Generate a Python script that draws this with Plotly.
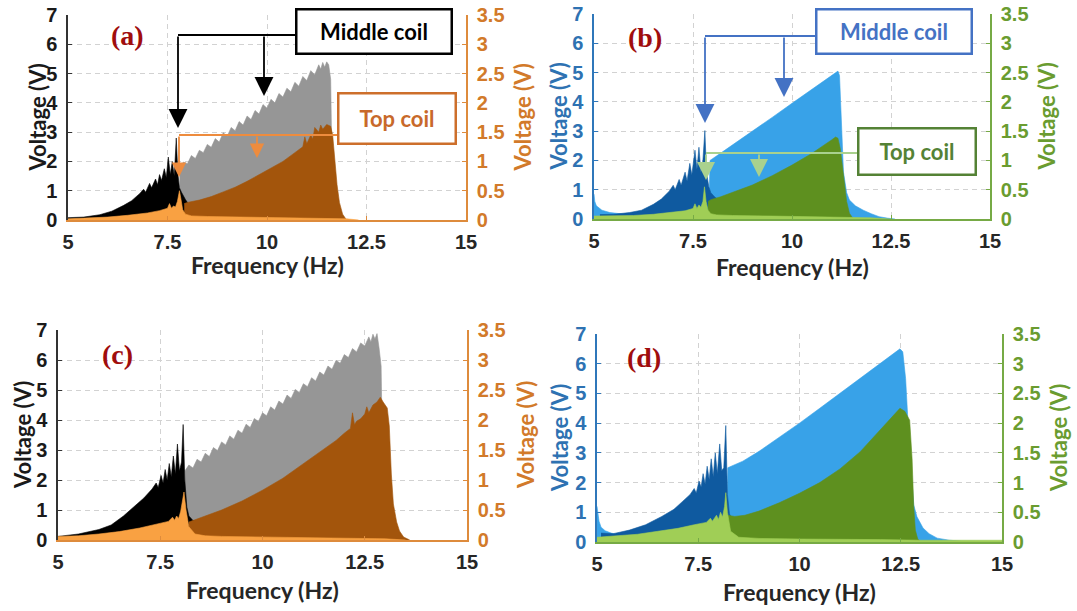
import plotly.graph_objects as go

W, H = 1077, 611

# ------------------------------------------------------------------ data
# Panel (a): middle coil (left axis, V) and top coil (right axis, V)
a_mid_pre_f = [5.0, 5.4, 5.8, 6.1, 6.4, 6.6, 6.8, 6.9, 6.95, 7.05, 7.1, 7.2, 7.25, 7.3, 7.35, 7.42, 7.47, 7.52, 7.57, 7.62, 7.67, 7.72, 7.76, 7.8, 7.85, 7.9, 7.95, 8.0, 8.02]
a_mid_pre_v = [0.08, 0.1, 0.18, 0.3, 0.5, 0.66, 0.9, 1.05, 0.95, 1.25, 1.1, 1.4, 1.2, 1.55, 1.35, 1.75, 1.45, 2.15, 1.55, 2.0, 1.5, 2.8, 1.6, 1.1, 0.95, 0.8, 0.7, 0.6, 0.0]
a_mid_post_f = [7.8, 7.9, 8.0, 8.1, 8.2, 8.3, 8.4, 8.5, 8.6, 8.7, 8.8, 8.9, 9.0, 9.1, 9.2, 9.3, 9.4, 9.5, 9.6, 9.7, 9.8, 9.9, 10.0, 10.1, 10.2, 10.3, 10.4, 10.5, 10.6, 10.7, 10.8, 10.9, 11.0, 11.1, 11.2, 11.3, 11.35, 11.4, 11.45, 11.5, 11.55, 11.6, 11.63, 11.66]
a_mid_post_v = [1.75, 1.98, 1.92, 2.2, 2.1, 2.38, 2.3, 2.58, 2.48, 2.78, 2.66, 2.98, 2.86, 3.16, 3.05, 3.36, 3.24, 3.55, 3.43, 3.74, 3.62, 3.94, 3.82, 4.12, 4.0, 4.32, 4.2, 4.5, 4.38, 4.7, 4.57, 4.9, 4.76, 5.1, 4.96, 5.3, 5.15, 5.38, 5.22, 5.4, 5.3, 4.8, 2.0, 0.0]
a_top_pre_f = [5.0, 5.5, 6.0, 6.5, 7.0, 7.3, 7.5, 7.55, 7.6, 7.65, 7.7, 7.75, 7.8, 7.84, 7.88, 7.95, 8.1, 8.5, 9.5, 10.5, 11.5, 12.0, 12.3]
a_top_pre_v = [0.02, 0.03, 0.05, 0.08, 0.12, 0.16, 0.2, 0.28, 0.2, 0.24, 0.22, 0.32, 0.5, 0.35, 0.18, 0.1, 0.07, 0.06, 0.05, 0.04, 0.03, 0.02, 0.0]
a_top_post_f = [7.92, 8.0, 8.3, 8.6, 8.9, 9.2, 9.5, 9.8, 10.1, 10.4, 10.7, 10.9, 10.95, 11.0, 11.1, 11.15, 11.2, 11.3, 11.35, 11.4, 11.5, 11.6, 11.65, 11.7, 11.76, 11.82, 11.9, 12.0]
a_top_post_v = [0.28, 0.3, 0.34, 0.4, 0.48, 0.56, 0.66, 0.77, 0.88, 1.0, 1.15, 1.25, 1.42, 1.3, 1.45, 1.38, 1.58, 1.5, 1.62, 1.55, 1.63, 1.6, 1.45, 1.0, 0.6, 0.3, 0.1, 0.0]

# Panel (b)
b_mid_pre_f = [5.15, 5.5, 5.9, 6.2, 6.5, 6.7, 6.9, 7.0, 7.05, 7.15, 7.2, 7.3, 7.35, 7.42, 7.47, 7.55, 7.6, 7.65, 7.7, 7.75, 7.8, 7.84, 7.9, 7.95, 8.05, 8.15, 8.18]
b_mid_pre_v = [0.15, 0.16, 0.22, 0.3, 0.5, 0.68, 0.95, 1.15, 1.0, 1.35, 1.15, 1.6, 1.3, 1.9, 1.5, 2.35, 1.7, 2.45, 1.6, 2.0, 3.02, 1.6, 1.1, 0.9, 0.75, 0.65, 0.0]
b_mid_post_f = [5.0, 5.02, 5.06, 5.1, 5.2, 5.4, 5.8, 6.5, 7.5, 7.9, 7.93, 8.2, 8.6, 9.0, 9.5, 10.0, 10.5, 11.0, 11.1, 11.16, 11.2, 11.25, 11.3, 11.38, 11.45, 11.6, 11.8, 12.0, 12.2, 12.4, 12.6]
b_mid_post_v = [0.85, 0.6, 0.45, 0.4, 0.3, 0.22, 0.16, 0.14, 0.2, 0.3, 2.0, 2.25, 2.62, 3.0, 3.47, 3.95, 4.42, 4.9, 5.0, 5.05, 4.9, 3.5, 1.6, 0.9, 0.65, 0.45, 0.3, 0.18, 0.08, 0.03, 0.0]
b_top_pre_f = [5.0, 5.5, 6.0, 6.5, 7.0, 7.3, 7.5, 7.55, 7.6, 7.65, 7.7, 7.75, 7.79, 7.83, 7.88, 7.95, 8.1, 8.5, 9.5, 10.5, 11.5, 12.0, 12.5]
b_top_pre_v = [0.05, 0.05, 0.06, 0.08, 0.11, 0.14, 0.18, 0.26, 0.18, 0.24, 0.2, 0.3, 0.55, 0.3, 0.15, 0.09, 0.07, 0.06, 0.05, 0.04, 0.03, 0.02, 0.0]
b_top_post_f = [7.88, 7.95, 8.2, 8.5, 9.0, 9.5, 10.0, 10.5, 10.8, 11.0, 11.1, 11.16, 11.22, 11.3, 11.38, 11.45, 11.55]
b_top_post_v = [0.3, 0.33, 0.38, 0.45, 0.58, 0.74, 0.92, 1.12, 1.25, 1.35, 1.4, 1.38, 1.2, 0.7, 0.3, 0.1, 0.0]

# Panel (c)
c_mid_pre_f = [5.0, 5.5, 6.0, 6.3, 6.6, 6.9, 7.1, 7.3, 7.4, 7.45, 7.52, 7.57, 7.62, 7.67, 7.72, 7.77, 7.82, 7.87, 7.92, 7.97, 8.02, 8.06, 8.1, 8.15, 8.2, 8.3, 8.4, 8.43]
c_mid_pre_v = [0.12, 0.2, 0.35, 0.5, 0.8, 1.15, 1.4, 1.7, 1.9, 1.75, 2.15, 1.9, 2.35, 2.0, 2.55, 2.1, 2.8, 2.2, 3.2, 2.3, 2.6, 3.85, 2.0, 1.1, 0.8, 0.65, 0.6, 0.0]
c_mid_post_f = [8.1, 8.2, 8.3, 8.4, 8.5, 8.6, 8.7, 8.8, 8.9, 9.0, 9.1, 9.2, 9.3, 9.4, 9.5, 9.6, 9.7, 9.8, 9.9, 10.0, 10.1, 10.2, 10.3, 10.4, 10.5, 10.6, 10.7, 10.8, 10.9, 11.0, 11.1, 11.2, 11.3, 11.4, 11.5, 11.6, 11.7, 11.8, 11.9, 12.0, 12.1, 12.2, 12.3, 12.4, 12.5, 12.6, 12.65, 12.7, 12.75, 12.8, 12.85, 12.9, 12.93, 12.96]
c_mid_post_v = [2.3, 2.5, 2.4, 2.69, 2.6, 2.89, 2.78, 3.08, 2.98, 3.27, 3.17, 3.47, 3.36, 3.66, 3.56, 3.86, 3.75, 4.05, 3.95, 4.24, 4.14, 4.44, 4.33, 4.63, 4.53, 4.83, 4.72, 5.02, 4.92, 5.21, 5.11, 5.41, 5.3, 5.6, 5.5, 5.8, 5.69, 5.99, 5.89, 6.18, 6.08, 6.38, 6.27, 6.57, 6.47, 6.77, 6.6, 6.86, 6.7, 6.88, 6.4, 5.8, 3.0, 0.0]
c_top_pre_f = [5.0, 5.5, 6.0, 6.5, 7.0, 7.5, 7.7, 7.8, 7.85, 7.9, 7.95, 8.0, 8.04, 8.08, 8.13, 8.2, 8.35, 8.6, 9.0, 10.0, 11.0, 12.0, 13.0, 13.5]
c_top_pre_v = [0.06, 0.07, 0.1, 0.14, 0.2, 0.27, 0.31, 0.38, 0.33, 0.4, 0.36, 0.48, 0.62, 0.8, 0.5, 0.22, 0.1, 0.07, 0.06, 0.05, 0.04, 0.03, 0.02, 0.0]
c_top_post_f = [8.2, 8.5, 9.0, 9.5, 10.0, 10.5, 11.0, 11.5, 11.8, 12.0, 12.15, 12.2, 12.25, 12.3, 12.4, 12.5, 12.55, 12.6, 12.7, 12.8, 12.88, 12.95, 13.05, 13.1, 13.15, 13.2, 13.28, 13.35, 13.45, 13.6]
c_top_post_v = [0.3, 0.38, 0.5, 0.65, 0.83, 1.03, 1.27, 1.52, 1.66, 1.78, 1.86, 2.12, 1.92, 1.98, 2.02, 2.1, 2.22, 2.12, 2.25, 2.3, 2.38, 2.3, 2.2, 1.9, 1.1, 0.6, 0.3, 0.15, 0.05, 0.0]

# Panel (d)
d_mid_pre_f = [5.1, 5.4, 5.8, 6.2, 6.6, 6.9, 7.1, 7.3, 7.4, 7.45, 7.52, 7.57, 7.62, 7.67, 7.72, 7.77, 7.82, 7.87, 7.92, 7.97, 8.03, 8.08, 8.13, 8.18, 8.22, 8.27, 8.32, 8.38, 8.4]
d_mid_pre_v = [0.3, 0.28, 0.4, 0.58, 0.86, 1.1, 1.35, 1.6, 1.8, 1.65, 2.05, 1.85, 2.3, 1.95, 2.55, 2.1, 2.8, 2.2, 3.0, 2.3, 3.3, 2.4, 2.5, 3.92, 1.6, 0.95, 0.8, 0.7, 0.0]
d_mid_post_f = [5.0, 5.02, 5.05, 5.1, 5.2, 5.35, 5.6, 6.0, 7.0, 8.0, 8.2, 8.23, 8.6, 9.0, 9.5, 10.0, 10.5, 11.0, 11.5, 12.0, 12.3, 12.48, 12.55, 12.62, 12.7, 12.76, 12.82, 12.9, 13.05, 13.2, 13.4, 13.7, 14.0, 15.0]
d_mid_post_v = [1.2, 0.95, 0.7, 0.5, 0.38, 0.3, 0.22, 0.18, 0.2, 0.25, 0.3, 2.5, 2.72, 3.05, 3.52, 4.0, 4.5, 5.0, 5.5, 6.0, 6.3, 6.5, 6.4, 5.5, 3.5, 2.2, 1.25, 0.85, 0.47, 0.28, 0.13, 0.06, 0.03, 0.02]
d_top_pre_f = [5.0, 5.5, 6.0, 6.5, 7.0, 7.4, 7.7, 7.8, 7.85, 7.95, 8.0, 8.05, 8.1, 8.15, 8.18, 8.22, 8.3, 8.5, 9.0, 10.0, 11.0, 12.0, 13.0, 14.0, 15.0]
d_top_pre_v = [0.08, 0.1, 0.13, 0.18, 0.23, 0.29, 0.33, 0.4, 0.35, 0.45, 0.38, 0.5, 0.42, 0.6, 0.83, 0.5, 0.18, 0.08, 0.06, 0.05, 0.05, 0.04, 0.03, 0.03, 0.03]
d_top_post_f = [8.23, 8.4, 8.65, 9.0, 9.5, 10.0, 10.5, 11.0, 11.5, 12.0, 12.3, 12.48, 12.6, 12.72, 12.78, 12.82, 12.86, 12.92, 13.0]
d_top_post_v = [0.45, 0.43, 0.45, 0.52, 0.66, 0.82, 1.0, 1.23, 1.52, 1.9, 2.12, 2.25, 2.2, 2.05, 1.4, 0.6, 0.2, 0.05, 0.0]

FREQ_TICKS = [5, 7.5, 10, 12.5, 15]
FREQ_TICK_LABELS = ["5", "7.5", "10", "12.5", "15"]
LEFT_TICKS = [0, 1, 2, 3, 4, 5, 6, 7]
LEFT_TICK_LABELS = ["0", "1", "2", "3", "4", "5", "6", "7"]
RIGHT_TICKS = [0, 0.5, 1, 1.5, 2, 2.5, 3, 3.5]
RIGHT_TICK_LABELS = ["0", "0.5", "1", "1.5", "2", "2.5", "3", "3.5"]

PANEL_LABELS = ["(a)", "(b)", "(c)", "(d)"]
X_TITLE = "Frequency (Hz)"
Y_TITLE = "Voltage (V)"

# ------------------------------------------------------------------ styling
TICK_FONT = "Liberation Sans, Arial, sans-serif"
TITLE_FONT = "Lato, Liberation Sans, sans-serif"
LABEL_FONT = "Liberation Serif, Times New Roman, serif"
GRID = "#d2d2d2"

STYLE_ORANGE = dict(mid_pre="#000000", mid_post="#969696", top_pre="#F9A142", top_post="#A3550C",
                    left_line="#333333", left_text="#1a1a1a",
                    right_line="#DE8B3C", right_text="#D27A2A")
STYLE_BLUE = dict(mid_pre="#0F5AA0", mid_post="#38A2E8", top_pre="#A0CE56", top_post="#5E901F",
                  left_line="#2F77BA", left_text="#2E72B2",
                  right_line="#76AA45", right_text="#6A9C30")

PANELS = [
    dict(box=(68, 466, 15, 220), style=STYLE_ORANGE,
         mid_pre=(a_mid_pre_f, a_mid_pre_v), mid_post=(a_mid_post_f, a_mid_post_v),
         top_pre=(a_top_pre_f, a_top_pre_v), top_post=(a_top_post_f, a_top_post_v),
         label_xy=(127, 36), ltitle_x=37, rtitle_x=522, xtitle_y=265),
    dict(box=(594, 990, 14, 219), style=STYLE_BLUE,
         mid_pre=(b_mid_pre_f, b_mid_pre_v), mid_post=(b_mid_post_f, b_mid_post_v),
         top_pre=(b_top_pre_f, b_top_pre_v), top_post=(b_top_post_f, b_top_post_v),
         label_xy=(645, 37), ltitle_x=558, rtitle_x=1046, xtitle_y=267),
    dict(box=(58, 467, 330, 540), style=STYLE_ORANGE,
         mid_pre=(c_mid_pre_f, c_mid_pre_v), mid_post=(c_mid_post_f, c_mid_post_v),
         top_pre=(c_top_pre_f, c_top_pre_v), top_post=(c_top_post_f, c_top_post_v),
         label_xy=(117, 354), ltitle_x=22, rtitle_x=525, xtitle_y=590),
    dict(box=(597, 1002, 334, 542), style=STYLE_BLUE,
         mid_pre=(d_mid_pre_f, d_mid_pre_v), mid_post=(d_mid_post_f, d_mid_post_v),
         top_pre=(d_top_pre_f, d_top_pre_v), top_post=(d_top_post_f, d_top_post_v),
         label_xy=(644, 357), ltitle_x=560, rtitle_x=1059, xtitle_y=592),
]


def px(x):
    return x / W


def py(y):
    return 1 - y / H


def bold(labels):
    return [f"<b>{s}</b>" for s in labels]


fig = go.Figure()
layout = dict(width=W, height=H, margin=dict(l=0, r=0, t=0, b=0, autoexpand=False),
              paper_bgcolor="white", plot_bgcolor="white", showlegend=False)

annotations = []
shapes = []

for i, p in enumerate(PANELS):
    n = i + 1
    xname = "x" if n == 1 else f"x{n}"
    yl_idx = 2 * n - 1
    yr_idx = 2 * n
    yl = "y" if yl_idx == 1 else f"y{yl_idx}"
    yr = f"y{yr_idx}"
    st = p["style"]
    l, r, t, b = p["box"]

    # middle coil (left axis)
    for key, col in (("mid_post", st["mid_post"]), ("mid_pre", st["mid_pre"])):
        f, v = p[key]
        fig.add_trace(go.Scatter(x=f, y=v, xaxis=xname, yaxis=yl, mode="lines",
                                 fill="tozeroy", fillcolor=col,
                                 line=dict(color=col, width=0.6), hoverinfo="skip"))
    # top coil (right axis)
    for key, col in (("top_post", st["top_post"]), ("top_pre", st["top_pre"])):
        f, v = p[key]
        fig.add_trace(go.Scatter(x=f, y=v, xaxis=xname, yaxis=yr, mode="lines",
                                 fill="tozeroy", fillcolor=col,
                                 line=dict(color=col, width=0.6), hoverinfo="skip"))

    xkey = "xaxis" if n == 1 else f"xaxis{n}"
    ylkey = "yaxis" if yl_idx == 1 else f"yaxis{yl_idx}"
    yrkey = f"yaxis{yr_idx}"

    common = dict(automargin=False, zeroline=False, ticks="inside", ticklen=4, linewidth=1.5,
                  showline=True, tickmode="array")
    layout[xkey] = dict(
        common, domain=[px(l), px(r)], anchor=yl, range=[5, 15],
        tickvals=FREQ_TICKS, ticktext=bold(FREQ_TICK_LABELS),
        linecolor=st["right_line"], tickcolor=st["right_line"],
        showgrid=True, gridcolor=GRID, griddash="5px,4px", gridwidth=1,
        tickfont=dict(family=TICK_FONT, size=20, color="#262626"),
        ticklabelstandoff=3,
    )
    layout[ylkey] = dict(
        common, domain=[py(b), py(t)], anchor=xname, range=[0, 7],
        tickvals=LEFT_TICKS, ticktext=bold(LEFT_TICK_LABELS),
        linecolor=st["left_line"], tickcolor=st["left_line"],
        showgrid=True, gridcolor=GRID, griddash="5px,4px", gridwidth=1,
        tickfont=dict(family=TICK_FONT, size=20, color=st["left_text"]),
        ticklabelstandoff=5,
    )
    layout[yrkey] = dict(
        common, domain=[py(b), py(t)], anchor=xname, overlaying=yl, side="right", range=[0, 3.5],
        tickvals=RIGHT_TICKS, ticktext=bold(RIGHT_TICK_LABELS),
        linecolor=st["right_line"], tickcolor=st["right_line"],
        showgrid=False,
        tickfont=dict(family=TICK_FONT, size=20, color=st["right_text"]),
        ticklabelstandoff=5,
    )

    # axis titles
    title_font_l = dict(family=TITLE_FONT, size=22, color=st["left_text"])
    title_font_r = dict(family=TITLE_FONT, size=22, color=st["right_text"])
    cy = (t + b) / 2
    annotations.append(dict(text=f"<b>{Y_TITLE}</b>", x=px(p["ltitle_x"]), y=py(cy), xref="paper", yref="paper",
                            showarrow=False, textangle=-90, xanchor="center", yanchor="middle",
                            font=title_font_l))
    annotations.append(dict(text=f"<b>{Y_TITLE}</b>", x=px(p["rtitle_x"]), y=py(cy), xref="paper", yref="paper",
                            showarrow=False, textangle=-90, xanchor="center", yanchor="middle",
                            font=title_font_r))
    annotations.append(dict(text=f"<b>{X_TITLE}</b>", x=px((l + r) / 2), y=py(p["xtitle_y"]),
                            xref="paper", yref="paper", showarrow=False, xanchor="center", yanchor="middle",
                            font=dict(family=TITLE_FONT, size=23, color="#262626")))

    lx, ly = p["label_xy"]
    annotations.append(dict(text=f"<b>{PANEL_LABELS[i]}</b>", x=px(lx), y=py(ly), xref="paper", yref="paper",
                            showarrow=False, xanchor="center", yanchor="middle",
                            font=dict(family=LABEL_FONT, size=28, color="#A00D0D")))


def add_box(text, cx, cy, w, h, border, color):
    annotations.append(dict(text=f"<b>{text}</b>", x=px(cx), y=py(cy), xref="paper", yref="paper",
                            showarrow=False, xanchor="center", yanchor="middle",
                            width=w - 5, height=h - 5, borderpad=0, borderwidth=2.5,
                            bordercolor=border, bgcolor="white",
                            font=dict(family=TITLE_FONT, size=22, color=color)))


def add_connector(y, x_from, x_to, color):
    shapes.append(dict(type="line", xref="paper", yref="paper",
                       x0=px(x_from), x1=px(x_to), y0=py(y), y1=py(y),
                       line=dict(color=color, width=1.8)))


def add_arrow(x, y_from, y_tip, color, size=2.0):
    annotations.append(dict(text="", x=px(x), y=py(y_tip), xref="paper", yref="paper",
                            ax=0, ay=y_from - y_tip, axref="pixel", ayref="pixel",
                            showarrow=True, arrowhead=2, arrowsize=size, arrowwidth=1.8,
                            arrowcolor=color))


# (a) callouts
add_connector(35, 295, 178, "#000000")
add_arrow(178, 35, 128, "#000000", 2.1)
add_arrow(264, 35, 96, "#000000", 2.1)
add_box("Middle coil", 374, 31.5, 158, 47, "#000000", "#000000")
add_connector(135, 337, 179, "#EE8C3E")
add_arrow(179, 135, 177, "#EE8C3E", 1.6)
add_arrow(257, 135, 158, "#EE8C3E", 1.6)
add_box("Top coil", 397, 118.5, 120, 53, "#CD6F2B", "#C8692A")

# (b) callouts
add_connector(36, 815, 705, "#4472C4")
add_arrow(705, 36, 123, "#4472C4", 2.1)
add_arrow(784, 36, 97, "#4472C4", 2.1)
add_box("Middle coil", 894, 31.5, 158, 47, "#4472C4", "#4472C4")
add_connector(153, 857, 706, "#A9D18E")
add_arrow(706, 153, 180, "#A9D18E", 2.0)
add_arrow(759, 153, 177, "#A9D18E", 2.0)
add_box("Top coil", 917, 151.5, 120, 49, "#548235", "#548235")

layout["annotations"] = annotations
layout["shapes"] = shapes
fig.update_layout(**layout)

fig.write_html("out.html",
               config={"displayModeBar": False},
               post_script="document.body.style.margin='0px';document.body.style.overflow='hidden';")
